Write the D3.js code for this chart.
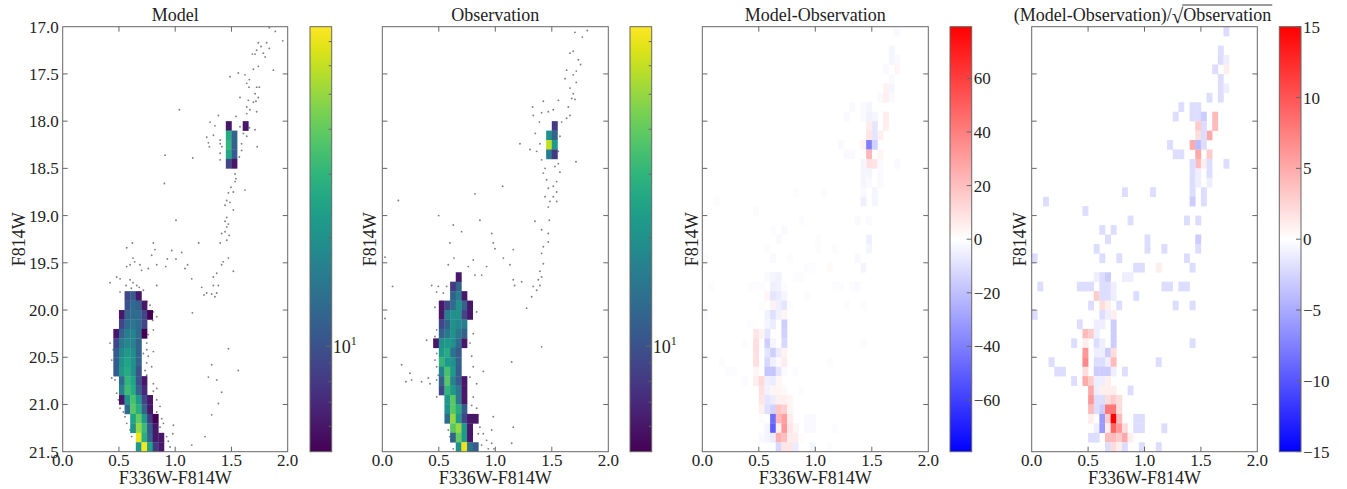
<!DOCTYPE html>
<html>
<head>
<meta charset="UTF-8">
<title>CMD: Model vs Observation</title>
<script src="https://d3js.org/d3.v7.min.js"></script>
<style>
  body { margin: 0; background: #fff; }
  text { font-family: "Liberation Serif", "DejaVu Serif", serif; fill: #222; }
</style>
</head>
<body>
<svg id="chart" width="1347" height="489"></svg>
<script>
// bin size of the Hess diagrams: colour 0.05, F814W 0.1
const binW = 0.05, binH = 0.1;
const xTicks = [0.0, 0.5, 1.0, 1.5, 2.0];
const yTicks = [17.0, 17.5, 18.0, 18.5, 19.0, 19.5, 20.0, 20.5, 21.0, 21.5];
const titles = ["Model", "Observation", "Model-Observation", null];

// hist rows: [F814W bin start, colour of first bin, counts left->right]
const modelRows = [
  [18.0, 1.45, [6]], [18.0, 1.60, [6]],
  [18.1, 1.45, [27, 12]], [18.2, 1.45, [30, 12]], [18.3, 1.45, [26, 11]], [18.4, 1.45, [9, 6]],
  [19.8, 0.55, [9, 11, 6]],
  [19.9, 0.55, [10, 13, 12, 6]],
  [20.0, 0.50, [6, 12, 13, 13, 9, 5]],
  [20.1, 0.50, [9, 13, 15, 13, 9]],
  [20.2, 0.45, [6, 12, 16, 17, 13, 5]],
  [20.3, 0.45, [9, 15, 18, 17, 12]],
  [20.4, 0.45, [11, 18, 22, 19, 12]],
  [20.5, 0.45, [11, 20, 25, 20, 12]],
  [20.6, 0.45, [11, 22, 27, 20, 10]],
  [20.7, 0.50, [13, 30, 25, 10, 6]],
  [20.8, 0.50, [17, 33, 27, 12, 7]],
  [20.9, 0.50, [6, 20, 35, 22, 9, 6]],
  [21.0, 0.55, [13, 38, 28, 12, 6]],
  [21.1, 0.60, [25, 40, 22, 8, 5]],
  [21.2, 0.60, [20, 50, 32, 11, 6]],
  [21.3, 0.65, [70, 28, 12, 6, 6]],
  [21.4, 0.65, [22, 75, 25, 8, 6]]
];

const obsRows = [
  [18.0, 1.50, [8]],
  [18.1, 1.45, [20, 12]], [18.2, 1.45, [60, 22]], [18.3, 1.45, [16, 8]],
  [19.6, 0.65, [6]],
  [19.7, 0.60, [8, 12]],
  [19.8, 0.60, [12, 16, 6]],
  [19.9, 0.50, [6, 9, 13, 20, 12, 6]],
  [20.0, 0.50, [6, 16, 20, 20, 9, 6]],
  [20.1, 0.50, [9, 12, 20, 18, 16]],
  [20.2, 0.50, [12, 15, 20, 15, 12]],
  [20.3, 0.45, [6, 20, 22, 20, 13, 6]],
  [20.4, 0.50, [22, 27, 14, 11]],
  [20.5, 0.50, [30, 22, 20, 12]],
  [20.6, 0.50, [17, 35, 22, 11]],
  [20.7, 0.50, [12, 38, 17, 11, 6]],
  [20.8, 0.50, [9, 30, 22, 15, 6]],
  [20.9, 0.55, [22, 38, 15, 6]],
  [21.0, 0.55, [20, 38, 27, 11]],
  [21.1, 0.55, [13, 50, 22, 9, 6, 6]],
  [21.2, 0.60, [38, 50, 22, 6]],
  [21.3, 0.60, [12, 40, 22, 6]],
  [21.4, 0.65, [20, 70, 14, 11]]
];

// sparse stars (bins under the count threshold): [colour, F814W]
const modelStars = [
  [1.837,17.01],[1.890,17.05],[1.956,17.15],[1.739,17.17],[1.813,17.17],[1.763,17.21],[1.724,17.25],[1.686,17.29],
  [1.784,17.28],[1.837,17.23],[1.710,17.29],[1.800,17.32],[1.739,17.42],[1.695,17.45],[1.873,17.46],[1.487,17.53],
  [1.561,17.49],[1.620,17.51],[1.659,17.56],[1.636,17.60],[1.724,17.64],[1.656,17.64],[1.748,17.64],[1.710,17.71],
  [1.739,17.75],[1.576,17.75],[1.650,17.78],[1.695,17.80],[1.718,17.79],[1.636,17.85],[1.664,17.88],[1.724,17.90],
  [1.636,17.92],[1.037,17.88],[1.384,17.94],[1.541,17.95],[1.310,18.01],[1.353,18.05],[1.280,18.17],[1.295,18.23],
  [1.304,18.27],[1.340,18.15],[1.400,18.20],[1.400,18.24],[1.415,18.27],[1.400,18.34],[1.400,18.41],[1.576,18.06],
  [1.606,18.13],[1.590,18.24],[1.659,18.07],[1.710,18.09],[1.636,18.16],[1.590,18.31],[1.729,18.27],[1.570,18.38],
  [0.910,18.36],[1.156,18.39],[1.532,18.56],[1.540,18.61],[1.532,18.64],[1.496,18.70],[1.620,18.73],[1.473,18.76],
  [1.517,18.75],[1.458,18.84],[1.487,18.86],[1.443,18.89],[1.517,18.94],[0.904,18.66],[1.007,19.05],[1.458,19.02],
  [1.443,19.06],[1.473,19.09],[1.458,19.12],[1.443,19.17],[1.413,19.19],[1.480,19.21],[1.458,19.26],[1.400,19.29],
  [1.209,19.29],[1.473,19.45],[1.427,19.49],[1.413,19.52],[1.517,19.59],[1.369,19.61],[1.339,19.65],[1.384,19.74],
  [1.339,19.74],[1.236,19.76],[1.280,19.82],[1.324,19.83],[1.353,19.86],[1.369,19.82],[1.256,19.84],[1.153,20.03],
  [1.147,19.67],[1.087,19.56],[1.110,19.52],[1.007,19.46],[0.930,19.46],[0.969,19.37],[0.916,19.54],[0.836,19.52],
  [1.058,19.39],[0.806,19.29],[0.820,19.36],[0.791,19.42],[0.761,19.56],[0.836,19.74],[0.619,19.29],[0.569,19.34],
  [0.625,19.45],[0.640,19.49],[0.569,19.54],[0.599,19.52],[0.687,19.52],[0.702,19.58],[0.421,19.71],[0.480,19.65],
  [0.510,19.67],[0.563,19.74],[0.599,19.68],[0.625,19.71],[0.658,19.74],[0.680,19.76],[0.510,19.81],[0.717,19.79],
  [0.610,19.77],[0.747,19.91],[0.776,19.95],[0.806,20.02],[0.836,20.07],[0.800,20.11],[0.806,20.21],[0.732,20.21],
  [0.761,20.26],[0.747,20.35],[0.747,20.42],[0.806,20.44],[0.717,20.46],[0.761,20.49],[0.747,20.56],[0.732,20.64],
  [0.747,20.69],[0.791,20.60],[0.806,20.78],[0.806,20.86],[0.836,20.83],[0.791,20.92],[0.836,20.95],[0.865,21.02],
  [0.836,21.08],[0.880,21.15],[0.895,21.20],[0.865,21.24],[0.924,21.34],[0.939,21.39],[0.954,21.45],[0.984,21.22],
  [0.978,21.31],[1.147,21.43],[1.265,21.34],[1.324,21.11],[1.384,20.99],[1.413,20.87],[1.369,20.74],[1.295,20.71],
  [1.324,20.58],[1.473,20.41],[1.561,20.64],[0.421,20.35],[0.450,20.42],[0.436,20.53],[0.465,20.58],[0.465,20.74],
  [0.436,20.72],[0.480,20.88],[0.495,20.95],[0.510,21.04],[0.539,21.08],[0.554,21.13],[0.569,21.20],[0.599,21.27],
  [0.613,21.34]
];

const obsStars = [
  [1.814,17.04],[1.770,17.11],[1.705,17.06],[1.661,17.28],[1.690,17.26],[1.735,17.35],[1.755,17.40],[1.631,17.46],
  [1.717,17.47],[1.690,17.51],[1.617,17.55],[1.717,17.59],[1.661,17.65],[1.690,17.71],[1.676,17.76],[1.705,17.77],
  [1.558,17.78],[1.425,17.79],[1.646,17.85],[1.661,17.94],[1.631,17.97],[1.587,18.01],[1.330,17.85],[1.410,17.91],
  [1.469,17.90],[1.513,17.88],[1.336,17.94],[1.390,18.01],[1.354,18.13],[1.218,18.24],[1.307,18.30],[1.366,18.32],
  [1.395,18.24],[1.572,18.16],[1.558,18.32],[1.714,18.43],[1.410,18.41],[1.440,18.50],[1.425,18.55],[1.454,18.62],
  [1.558,18.45],[1.572,18.54],[1.528,18.48],[1.543,18.64],[1.513,18.69],[1.543,18.75],[1.469,18.71],[1.440,18.80],
  [1.513,18.80],[1.484,18.85],[1.543,18.85],[1.469,18.91],[1.065,18.69],[0.820,18.77],[0.142,18.84],[1.351,19.06],
  [1.478,19.05],[1.410,19.15],[1.469,19.19],[1.469,19.28],[1.425,19.33],[1.410,19.40],[1.425,19.51],[1.395,19.59],
  [1.410,19.65],[1.380,19.68],[1.395,19.74],[1.336,19.75],[1.366,19.79],[1.322,19.86],[1.277,19.98],[1.233,19.70],
  [1.159,19.68],[1.171,19.74],[1.130,19.52],[1.159,19.36],[1.071,19.45],[0.982,19.29],[0.997,19.35],[0.968,19.19],
  [0.864,19.05],[0.702,19.17],[0.628,19.10],[0.499,19.00],[0.599,19.29],[0.634,19.45],[0.584,19.52],[0.923,19.54],
  [0.820,19.63],[0.879,19.63],[0.761,19.54],[0.805,19.47],[0.658,19.72],[0.569,19.75],[0.496,19.75],[0.437,19.74],
  [0.481,19.81],[0.540,19.82],[0.525,19.91],[0.466,19.97],[0.510,20.04],[0.835,20.02],[0.024,19.44],[0.091,19.75],
  [0.024,20.09],[0.481,20.21],[0.466,20.28],[0.392,20.32],[0.496,20.39],[0.481,20.46],[0.466,20.53],[0.481,20.60],
  [0.496,20.69],[0.481,20.74],[0.510,20.83],[0.171,20.58],[0.245,20.67],[0.259,20.74],[0.209,20.76],[0.348,20.76],
  [0.407,20.72],[0.422,20.78],[0.805,20.25],[0.776,20.35],[0.791,20.49],[0.805,20.60],[0.776,20.71],[0.835,20.78],
  [0.894,20.65],[0.805,20.92],[0.791,21.01],[0.835,21.04],[0.820,21.18],[0.864,21.24],[0.894,21.31],[0.850,21.31],
  [0.923,21.38],[0.879,21.43],[0.938,21.47],[0.982,21.13],[0.968,21.27],[0.968,21.41],[0.988,21.47],[1.159,21.24],
  [1.145,21.41],[1.145,20.55],[1.410,20.39],[0.569,21.10],[0.563,21.18],[0.584,21.27],[0.599,21.34],[0.614,21.39],
  [0.628,21.47],[0.481,20.92]
];

// residual maps: [colour bin, F814W bin, value]
const diffCells = [
  [1.70,17.0,-2],[1.65,17.2,-3],[1.65,17.3,-3],[1.70,17.3,-2],[1.60,17.4,-2],[1.70,17.4,3],[1.65,17.5,-2],
  [1.65,17.6,-3],[1.65,17.7,-2],[1.55,17.7,-2],[1.60,17.6,4],[1.60,17.7,5],[1.30,17.8,-2],[1.25,17.9,-2],
  [1.40,17.8,-2],[1.45,17.8,-3],[1.40,17.9,-2],[1.45,17.9,-4],[1.60,17.9,6],[1.60,18.0,5],[1.50,17.9,-3],
  [1.50,18.0,-8],[1.45,18.0,6],[1.55,18.1,5],[1.45,18.1,8],[1.50,18.1,-8],[1.40,18.2,4],[1.45,18.2,-40],
  [1.50,18.2,-14],[1.55,18.3,3],[1.25,18.3,-2],[1.30,18.3,-2],[1.20,18.2,-2],[1.45,18.3,22],[1.45,18.4,10],
  [1.50,18.4,8],[1.40,18.4,-3],[1.40,18.5,-3],[1.40,18.6,-3],[1.40,18.7,-2],[1.45,18.5,-3],[1.45,18.6,-2],
  [1.55,18.4,-2],[1.55,18.5,-2],[1.55,18.6,-2],[1.70,18.4,-2],[1.50,18.7,-3],[1.40,18.8,-5],[1.50,18.8,-3],
  [0.80,18.7,-1],[1.05,18.7,-1],[0.10,18.8,-1],[0.45,18.9,-1],[0.85,19.0,-1],[1.35,19.0,-2],[1.45,19.0,-2],
  [0.60,19.1,-1],[0.70,19.1,-2],[0.65,19.2,-2],[1.00,19.2,-1],[1.00,19.3,-1],[1.45,19.2,-5],[1.45,19.3,-3],
  [0.55,19.3,-1],[1.15,19.3,-1],[0.00,19.4,-1],[0.60,19.4,-2],[0.75,19.4,-1],[1.35,19.4,-2],[1.40,19.5,-3],
  [1.10,19.5,2],[0.90,19.5,-1],[0.95,19.5,-1],
  [0.55,19.6,-2],[0.60,19.6,-3],[0.65,19.6,-4],[0.80,19.6,-1],[0.85,19.6,-1],
  [0.05,19.7,-1],[0.40,19.7,-1],[0.45,19.7,-1],[0.50,19.7,-1],[0.60,19.7,-5],[0.65,19.7,-4],[0.70,19.7,-1],
  [1.30,19.7,-1],[1.35,19.7,-2],[1.15,19.7,-1],[1.20,19.7,-1],
  [0.55,19.8,3],[0.60,19.8,-8],[0.65,19.8,-6],[0.70,19.8,-3],[0.90,19.8,-1],
  [0.50,19.9,-1],[0.60,19.9,4],[0.65,19.9,-5],[0.70,19.9,-8],[0.75,19.9,-1],[1.25,19.9,-1],[1.40,19.9,-1],
  [0.00,20.0,-1],[0.55,20.0,-4],[0.60,20.0,-10],[0.65,20.0,-4],[0.70,20.0,3],
  [0.40,20.1,-1],[0.55,20.1,-3],[0.60,20.1,-6],[0.70,20.1,-15],
  [0.45,20.2,8],[0.50,20.2,4],[0.55,20.2,-8],[0.70,20.2,-14],
  [0.35,20.3,-1],[0.45,20.3,10],[0.55,20.3,-15],[0.60,20.3,-3],[0.70,20.3,-12],[1.40,20.3,-1],
  [0.45,20.4,10],[0.55,20.4,-8],[0.60,20.4,-15],[0.65,20.4,-6],[0.70,20.4,4],
  [0.15,20.5,-1],[0.45,20.5,10],[0.55,20.5,-12],[0.60,20.5,-5],[0.65,20.5,-2],[0.70,20.5,6],[1.10,20.5,-1],
  [0.20,20.6,-1],[0.25,20.6,-1],[0.45,20.6,3],[0.55,20.6,-18],[0.60,20.6,-18],[0.65,20.6,-8],[0.70,20.6,-2],[0.80,20.6,-1],
  [0.35,20.7,-1],[0.45,20.7,6],[0.50,20.7,12],[0.55,20.7,-5],[0.60,20.7,-6],[0.65,20.7,3],
  [0.50,20.8,10],[0.55,20.8,-4],[0.60,20.8,3],[0.65,20.8,3],[0.70,20.8,2],[0.85,20.8,-1],
  [0.50,20.9,8],[0.55,20.9,-8],[0.60,20.9,-6],[0.65,20.9,5],[0.70,20.9,5],[0.75,20.9,3],
  [0.50,21.0,5],[0.55,21.0,-10],[0.60,21.0,-14],[0.65,21.0,18],[0.70,21.0,15],[0.75,21.0,3],
  [0.50,21.1,1],[0.60,21.1,-45],[0.65,21.1,22],[0.70,21.1,30],[0.75,21.1,6],[0.90,21.1,-2],[0.95,21.1,-2],
  [0.55,21.2,-3],[0.60,21.2,-50],[0.65,21.2,5],[0.70,21.2,32],[0.75,21.2,8],[0.80,21.2,3],[0.90,21.2,-2],[0.95,21.2,-2],[1.15,21.2,-1],
  [0.50,21.3,-2],[0.55,21.3,-3],[0.60,21.3,-6],[0.65,21.3,25],[0.70,21.3,20],[0.75,21.3,6],[0.80,21.3,6],[0.85,21.3,1],
  [0.65,21.4,-12],[0.70,21.4,8],[0.75,21.4,8],[0.80,21.4,-6],[0.95,21.4,-3],[1.10,21.4,-1]
];

const signifCells = [
  [1.70,17.0,-2],[1.65,17.2,-2],[1.65,17.3,-2],[1.70,17.3,-1],[1.60,17.4,-2],[1.70,17.4,1],[1.65,17.5,-2],
  [1.65,17.6,-2],[1.65,17.7,-2],[1.55,17.7,-2],[1.70,17.6,-1],[1.30,17.8,-2],[1.25,17.9,-2],[1.40,17.8,-2],
  [1.45,17.8,-2],[1.40,17.9,-2],[1.45,17.9,-2],[1.60,17.9,4],[1.60,18.0,4],[1.50,17.9,-3],[1.50,18.0,-2],
  [1.45,18.0,3],[1.55,18.1,5],[1.45,18.1,2],[1.50,18.1,-2],[1.40,18.2,5],[1.45,18.2,-4],[1.50,18.2,-2],
  [1.55,18.3,3],[1.25,18.3,-2],[1.30,18.3,-2],[1.20,18.2,-2],[1.45,18.3,5],[1.45,18.4,4],[1.50,18.4,1],
  [1.40,18.4,-2],[1.40,18.5,-2],[1.40,18.6,-2],[1.40,18.7,-2],[1.45,18.5,-1],[1.45,18.6,-1],[1.55,18.4,-2],
  [1.55,18.5,-2],[1.55,18.6,-1],[1.70,18.4,-2],[1.50,18.7,-2],[1.40,18.8,-3],[1.50,18.8,-2],[0.80,18.7,-2],
  [1.05,18.7,-2],[0.10,18.8,-2],[0.45,18.9,-2],[0.85,19.0,-2],[1.35,19.0,-2],[1.45,19.0,-2],[0.60,19.1,-2],
  [0.70,19.1,-2],[0.65,19.2,-2],[1.00,19.2,-2],[1.00,19.3,-2],[1.45,19.2,-3],[1.45,19.3,-2],[0.55,19.3,-2],
  [1.15,19.3,-2],[0.00,19.4,-2],[0.60,19.4,-2],[0.75,19.4,-2],[1.35,19.4,-2],[1.40,19.5,-2],[1.10,19.5,1],
  [0.90,19.5,-2],[0.95,19.5,-2],
  [0.55,19.6,-1],[0.60,19.6,-2],[0.65,19.6,-3],[0.80,19.6,-1],[0.85,19.6,-1],
  [0.05,19.7,-2],[0.40,19.7,-2],[0.45,19.7,-2],[0.50,19.7,-2],[0.60,19.7,-2],[0.65,19.7,-2],[0.70,19.7,-1],
  [1.30,19.7,-2],[1.35,19.7,-2],[1.15,19.7,-2],[1.20,19.7,-2],
  [0.55,19.8,3],[0.60,19.8,-2],[0.65,19.8,-2],[0.70,19.8,-1],[0.90,19.8,-2],
  [0.50,19.9,-2],[0.60,19.9,2],[0.65,19.9,1],[0.75,19.9,-2],[1.25,19.9,-2],[1.40,19.9,-2],
  [0.00,20.0,-2],[0.60,20.0,-2],[0.65,20.0,-1],[0.70,20.0,1],
  [0.40,20.1,-2],[0.55,20.1,-1],[0.60,20.1,-1],[0.70,20.1,-3],
  [0.45,20.2,4],[0.50,20.2,3],[0.55,20.2,-1],[0.70,20.2,-3],
  [0.35,20.3,-2],[0.45,20.3,1],[0.55,20.3,-2],[0.60,20.3,-1],[0.70,20.3,-3],[1.40,20.3,-2],
  [0.45,20.4,6],[0.55,20.4,-1],[0.60,20.4,-1],[0.65,20.4,-3],[0.70,20.4,2],
  [0.15,20.5,-2],[0.45,20.5,7],[0.55,20.5,-2],[0.60,20.5,-2],[0.65,20.5,-1],[0.70,20.5,4],[1.10,20.5,-2],
  [0.20,20.6,-2],[0.25,20.6,-2],[0.45,20.6,2],[0.55,20.6,-3],[0.60,20.6,-3],[0.65,20.6,-3],[0.70,20.6,-1],[0.80,20.6,-2],
  [0.35,20.7,-2],[0.45,20.7,5],[0.50,20.7,3],[0.55,20.7,-1],[0.60,20.7,-1],[0.65,20.7,1],
  [0.50,20.8,5],[0.55,20.8,-1],[0.60,20.8,1],[0.65,20.8,1],[0.70,20.8,1],[0.85,20.8,-2],
  [0.50,20.9,6],[0.55,20.9,-2],[0.60,20.9,-2],[0.65,20.9,2],[0.70,20.9,3],[0.75,20.9,2],
  [0.50,21.0,4],[0.55,21.0,-2],[0.60,21.0,-3],[0.65,21.0,8],[0.70,21.0,8],[0.75,21.0,2],
  [0.50,21.1,1],[0.60,21.1,-6],[0.65,21.1,3],[0.70,21.1,15],[0.75,21.1,4],[0.90,21.1,-2],[0.95,21.1,-2],
  [0.55,21.2,-1],[0.60,21.2,-6],[0.65,21.2,1],[0.70,21.2,9],[0.75,21.2,6],[0.80,21.2,2],[0.90,21.2,-2],[0.95,21.2,-2],[1.15,21.2,-2],
  [0.50,21.3,-2],[0.55,21.3,-2],[0.65,21.3,4],[0.70,21.3,4],[0.75,21.3,3],[0.80,21.3,5],[0.85,21.3,1],
  [0.65,21.4,-2],[0.70,21.4,2],[0.75,21.4,1],[0.80,21.4,-2],[0.95,21.4,-2],[1.10,21.4,-2]
];

// colour-bar ranges
const countRange = [5.1, 77];
const countMinor = [6, 7, 8, 9, 20, 30, 40, 50, 60, 70];
const diffMax = 79.3, diffTicks = [-60, -40, -20, 0, 20, 40, 60];
const sigMax = 15, sigTicks = [-15, -10, -5, 0, 5, 10, 15];

const svg = d3.select('#chart');
const yTop = 26.7, yBot = 451.7;
const frame = '#666';
const fs = 17;

const panels = [
  { x0: 62.7,   x1: 287.7,  cb: 310,    yLab: 19,   yTicks: true },
  { x0: 382.3,  x1: 608.3,  cb: 630,    yLab: 370,  yTicks: false },
  { x0: 702.3,  x1: 928.3,  cb: 950,    yLab: 692,  yTicks: false },
  { x0: 1031.7, x1: 1257.3, cb: 1279.3, yLab: 1020, yTicks: false }
];
const cbW = 21.7;

// matplotlib "bwr": straight rgb ramps blue -> white -> red
const bwr = d3.piecewise(d3.interpolateRgb, ['#0000ff', '#ffffff', '#ff0000']);
const logT = d3.scaleLog().domain(countRange).range([0, 1]).clamp(true);

panels.forEach((p, k) => {
  const x = d3.scaleLinear().domain([0, 2]).range([p.x0, p.x1]);
  const y = d3.scaleLinear().domain([17, 21.5]).range([yTop, yBot]);
  const g = svg.append('g');

  const clipId = 'clip' + k;
  svg.append('clipPath').attr('id', clipId).append('rect')
    .attr('x', p.x0).attr('y', yTop).attr('width', p.x1 - p.x0).attr('height', yBot - yTop);
  const plot = g.append('g').attr('clip-path', `url(#${clipId})`);

  const cellRect = (sel, c, m) => sel
    .attr('x', x(c)).attr('y', y(m))
    .attr('width', x(c + binW) - x(c) + 0.3)
    .attr('height', y(m + binH) - y(m) + 0.3);

  if (k < 2) {
    const stars = k === 0 ? modelStars : obsStars;
    const rows = k === 0 ? modelRows : obsRows;
    plot.selectAll('circle').data(stars).enter().append('circle')
      .attr('cx', d => x(d[0])).attr('cy', d => y(d[1])).attr('r', 0.95)
      .attr('fill', '#808080');
    rows.forEach(r => {
      r[2].forEach((n, i) => {
        plot.append('rect').call(cellRect, r[1] + i * binW, r[0])
          .attr('fill', d3.interpolateViridis(logT(n)));
      });
    });
  } else {
    const cells = k === 2 ? diffCells : signifCells;
    const vmax = k === 2 ? diffMax : sigMax;
    cells.forEach(d => {
      plot.append('rect').call(cellRect, d[0], d[1])
        .attr('fill', bwr((d[2] + vmax) / (2 * vmax)));
    });
  }

  // frame and inward ticks on all four sides
  g.append('rect').attr('x', p.x0).attr('y', yTop).attr('width', p.x1 - p.x0).attr('height', yBot - yTop)
    .attr('fill', 'none').attr('stroke', frame).attr('stroke-width', 1);
  xTicks.slice(1, -1).forEach(t => {
    g.append('line').attr('x1', x(t)).attr('x2', x(t)).attr('y1', yBot).attr('y2', yBot - 5).attr('stroke', frame);
    g.append('line').attr('x1', x(t)).attr('x2', x(t)).attr('y1', yTop).attr('y2', yTop + 5).attr('stroke', frame);
  });
  yTicks.slice(1, -1).forEach(t => {
    g.append('line').attr('x1', p.x0).attr('x2', p.x0 + 5).attr('y1', y(t)).attr('y2', y(t)).attr('stroke', frame);
    g.append('line').attr('x1', p.x1).attr('x2', p.x1 - 5).attr('y1', y(t)).attr('y2', y(t)).attr('stroke', frame);
  });
  xTicks.forEach(t => {
    g.append('text').attr('x', x(t)).attr('y', 466).attr('text-anchor', 'middle')
      .attr('font-size', fs).text(t.toFixed(1));
  });
  if (p.yTicks) {
    yTicks.forEach(t => {
      g.append('text').attr('x', p.x0 - 4).attr('y', y(t) + 6).attr('text-anchor', 'end')
        .attr('font-size', fs).text(t.toFixed(1));
    });
  }
  g.append('text').attr('x', (p.x0 + p.x1) / 2).attr('y', 484).attr('text-anchor', 'middle')
    .attr('font-size', 18).text('F336W-F814W');
  g.append('text').attr('transform', `translate(${p.yLab + 6},${(yTop + yBot) / 2}) rotate(-90)`)
    .attr('text-anchor', 'middle').attr('font-size', 18).text('F814W');

  if (titles[k]) {
    g.append('text').attr('x', (p.x0 + p.x1) / 2).attr('y', 21).attr('text-anchor', 'middle')
      .attr('font-size', 18).text(titles[k]);
  }

  // colour bar
  const gradId = 'grad' + k;
  const grad = svg.append('defs').append('linearGradient').attr('id', gradId)
    .attr('x1', 0).attr('y1', 1).attr('x2', 0).attr('y2', 0);
  d3.range(0, 1.0001, 0.05).forEach(t => {
    grad.append('stop').attr('offset', t)
      .attr('stop-color', k < 2 ? d3.interpolateViridis(t) : bwr(t));
  });
  g.append('rect').attr('x', p.cb).attr('y', yTop).attr('width', cbW).attr('height', yBot - yTop)
    .attr('fill', `url(#${gradId})`).attr('stroke', frame).attr('stroke-width', 1);
  const cbR = p.cb + cbW;

  if (k < 2) {
    const cy = d3.scaleLog().domain(countRange).range([yBot, yTop]);
    countMinor.forEach(v => {
      g.append('line').attr('x1', cbR).attr('x2', cbR - 3).attr('y1', cy(v)).attr('y2', cy(v)).attr('stroke', frame);
    });
    g.append('line').attr('x1', cbR).attr('x2', cbR - 6).attr('y1', cy(10)).attr('y2', cy(10)).attr('stroke', frame);
    const lab = g.append('text').attr('x', cbR + 1).attr('y', cy(10) + 7).attr('font-size', 18);
    lab.append('tspan').text('10');
    lab.append('tspan').attr('dy', -8).attr('font-size', 12).text('1');
  } else {
    const vmax = k === 2 ? diffMax : sigMax;
    const ticks = k === 2 ? diffTicks : sigTicks;
    const cy = d3.scaleLinear().domain([-vmax, vmax]).range([yBot, yTop]);
    ticks.forEach(v => {
      g.append('line').attr('x1', cbR).attr('x2', cbR - 5).attr('y1', cy(v)).attr('y2', cy(v)).attr('stroke', frame);
      g.append('text').attr('x', cbR + 2).attr('y', cy(v) + 6).attr('font-size', fs)
        .text(v < 0 ? '\u2212' + Math.abs(v) : String(v));
    });
  }
});

// title of the last panel with a drawn square-root bar
(function () {
  const p = panels[3];
  const cx = (p.x0 + p.x1) / 2 - 2, base = 21;
  const g = svg.append('g');
  const a = g.append('text').attr('font-size', 18).text('(Model-Observation)/');
  const r = g.append('text').attr('font-size', 21).text('\u221A');
  const o = g.append('text').attr('font-size', 18).text('Observation');
  const wa = a.node().getComputedTextLength();
  const wr = r.node().getComputedTextLength();
  const wo = o.node().getComputedTextLength();
  const x0 = cx - (wa + wr + wo) / 2;
  a.attr('x', x0).attr('y', base);
  r.attr('x', x0 + wa).attr('y', base + 2);
  o.attr('x', x0 + wa + wr).attr('y', base);
  g.append('line').attr('x1', x0 + wa + wr - 1).attr('x2', x0 + wa + wr + wo + 1)
    .attr('y1', base - 16).attr('y2', base - 16).attr('stroke', '#222').attr('stroke-width', 0.9);
})();
</script>
</body>
</html>
